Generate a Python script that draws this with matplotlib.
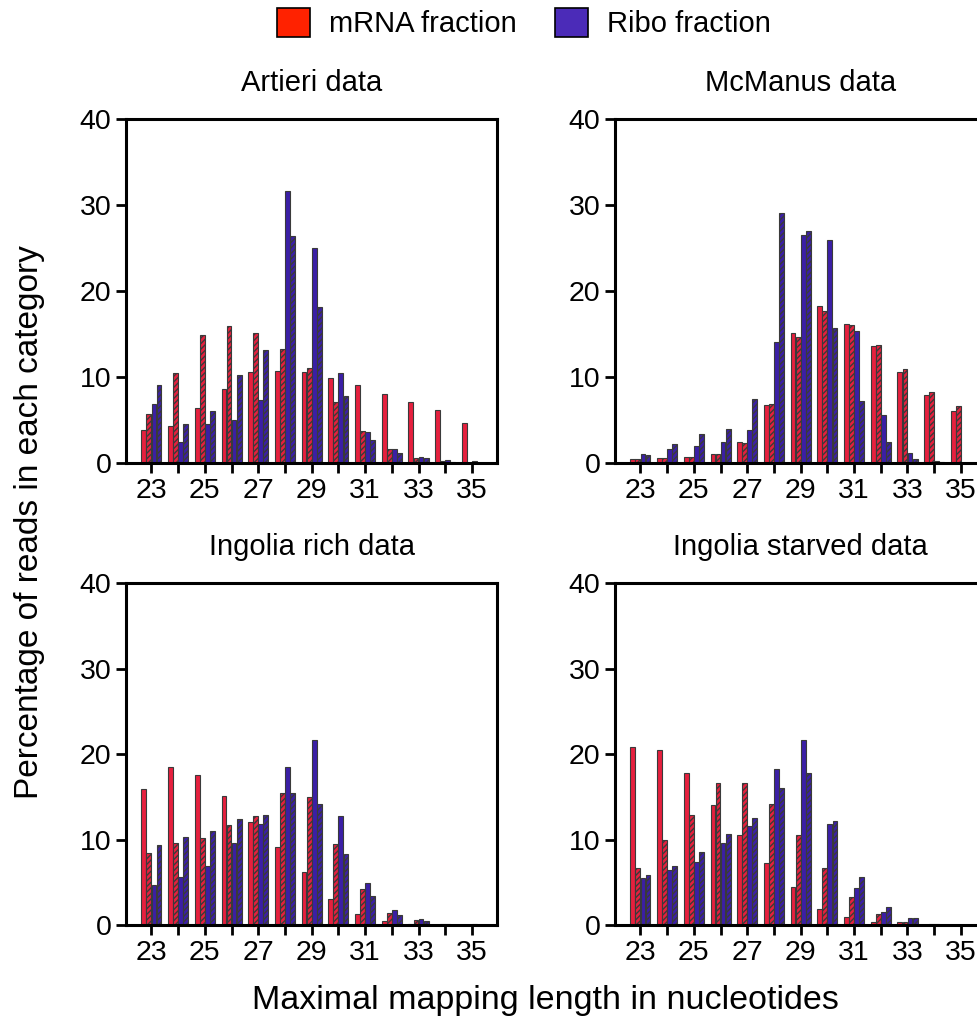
import matplotlib
matplotlib.use("Agg")
import matplotlib.pyplot as plt
from matplotlib.patches import Patch
import numpy as np

lengths = [23, 24, 25, 26, 27, 28, 29, 30, 31, 32, 33, 34, 35]

# Artieri
art_mrna = [3.8, 4.3, 6.35, 8.6, 10.6, 10.7, 10.6, 9.9, 9.1, 8.0, 7.06, 6.16, 4.6]
art_mrna_h = [5.7, 10.5, 14.9, 15.9, 15.1, 13.3, 11.0, 7.1, 3.7, 1.65, 0.63, 0.27, 0.0]
art_ribo = [6.9, 2.4, 4.55, 5.0, 7.3, 31.6, 25.0, 10.5, 3.65, 1.65, 0.75, 0.3, 0.2]
art_ribo_h = [9.1, 4.5, 6.1, 10.2, 13.1, 26.35, 18.1, 7.8, 2.7, 1.2, 0.63, 0.15, 0.05]

# McManus
mcm_mrna = [0.47, 0.55, 0.75, 1.06, 2.4, 6.8, 15.1, 18.3, 16.2, 13.6, 10.6, 7.9, 6.1]
mcm_mrna_h = [0.47, 0.55, 0.75, 1.06, 2.3, 6.86, 14.67, 17.7, 16.0, 13.7, 10.9, 8.3, 6.6]
mcm_ribo = [1.1, 1.6, 2.0, 2.4, 3.8, 14.1, 26.5, 25.9, 15.4, 5.6, 1.2, 0.27, 0.0]
mcm_ribo_h = [0.9, 2.2, 3.4, 3.9, 7.4, 29.1, 27.0, 15.65, 7.2, 2.5, 0.5, 0.1, 0.0]

# Ingolia rich
ir_mrna = [15.9, 18.5, 17.5, 15.1, 12.1, 9.1, 6.2, 3.0, 1.25, 0.43, 0.1, 0.05, 0.05]
ir_mrna_h = [8.4, 9.6, 10.2, 11.7, 12.8, 15.45, 15.0, 9.5, 4.16, 1.4, 0.55, 0.1, 0.05]
ir_ribo = [4.7, 5.6, 6.9, 9.65, 11.8, 18.5, 21.6, 12.8, 4.9, 1.73, 0.7, 0.1, 0.1]
ir_ribo_h = [9.4, 10.35, 11.0, 12.35, 12.9, 15.4, 14.2, 8.3, 3.45, 1.14, 0.47, 0.05, 0.05]

# Ingolia starved
is_mrna = [20.8, 20.5, 17.8, 14.0, 10.5, 7.3, 4.5, 1.9, 0.9, 0.4, 0.3, 0.05, 0.0]
is_mrna_h = [6.7, 9.96, 12.9, 16.6, 16.6, 14.2, 10.5, 6.7, 3.3, 1.25, 0.35, 0.1, 0.0]
is_ribo = [5.5, 6.4, 7.4, 9.65, 11.6, 18.3, 21.7, 11.8, 4.3, 1.57, 0.8, 0.1, 0.0]
is_ribo_h = [5.85, 6.86, 8.5, 10.6, 12.5, 16.0, 17.8, 12.2, 5.65, 2.08, 0.8, 0.05, 0.0]

titles = ["Artieri data", "McManus data", "Ingolia rich data", "Ingolia starved data"]
panels = [
    (art_mrna, art_mrna_h, art_ribo, art_ribo_h),
    (mcm_mrna, mcm_mrna_h, mcm_ribo, mcm_ribo_h),
    (ir_mrna, ir_mrna_h, ir_ribo, ir_ribo_h),
    (is_mrna, is_mrna_h, is_ribo, is_ribo_h),
]

plt.rcParams['font.family'] = ['Liberation Sans', 'DejaVu Sans']
plt.rcParams['hatch.linewidth'] = 1.0

RED = "#E6203E"
BLUE = "#3B1FA6"
EDGE = "#3a3a3a"

fig = plt.figure(figsize=(9.77, 10.26), dpi=100)

W = 0.380
positions = [
    (0.129, 0.5487, W, 0.3353),
    (0.6295, 0.5487, W, 0.3353),
    (0.129, 0.0984, W, 0.3333),
    (0.6295, 0.0984, W, 0.3333),
]

x = np.array(lengths, dtype=float)
bw = 0.19
offsets = [-1.5 * bw, -0.5 * bw, 0.5 * bw, 1.5 * bw]
colors = [RED, RED, BLUE, BLUE]
hatches = [None, '//////', None, '//////']

for pos, title, series in zip(positions, titles, panels):
    ax = fig.add_axes(pos)
    for off, col, h, vals in zip(offsets, colors, hatches, series):
        ax.bar(x + off, vals, width=bw * 0.95, color=col, edgecolor=EDGE,
               linewidth=0.8, hatch=h)
    ax.set_xlim(22.05, 35.95)
    ax.set_ylim(0, 40)
    ax.set_yticks([0, 10, 20, 30, 40])
    ax.set_xticks(lengths)
    ax.set_xticklabels([str(v) if v % 2 == 1 else "" for v in lengths])
    ax.tick_params(axis='both', labelsize=20.5, width=2, length=7, color='black',
                   direction='out')
    ax.tick_params(axis='x', pad=4)
    for sp in ax.spines.values():
        sp.set_linewidth(2.2)
        sp.set_color('black')
    ax.set_title(title, fontsize=21, pad=20)

handles = [Patch(facecolor="#FF2200", edgecolor="black", linewidth=1.2),
           Patch(facecolor="#4B2BB8", edgecolor="black", linewidth=1.2)]
fig.legend(handles, ["mRNA fraction", "Ribo fraction"], loc='center',
           bbox_to_anchor=(524 / 977, 1 - 23 / 1026), ncol=2, frameon=False,
           fontsize=21, handlelength=1.15, handleheight=1.15, columnspacing=1.3,
           handletextpad=0.65)

fig.text(545 / 977, 1 - 1000 / 1026, "Maximal mapping length in nucleotides",
         ha='center', va='center', fontsize=24.5)
fig.text(30 / 977, 1 - 522 / 1026, "Percentage of reads in each category",
         ha='center', va='center', rotation=90, fontsize=24)

fig.savefig("out.png", dpi=100)
